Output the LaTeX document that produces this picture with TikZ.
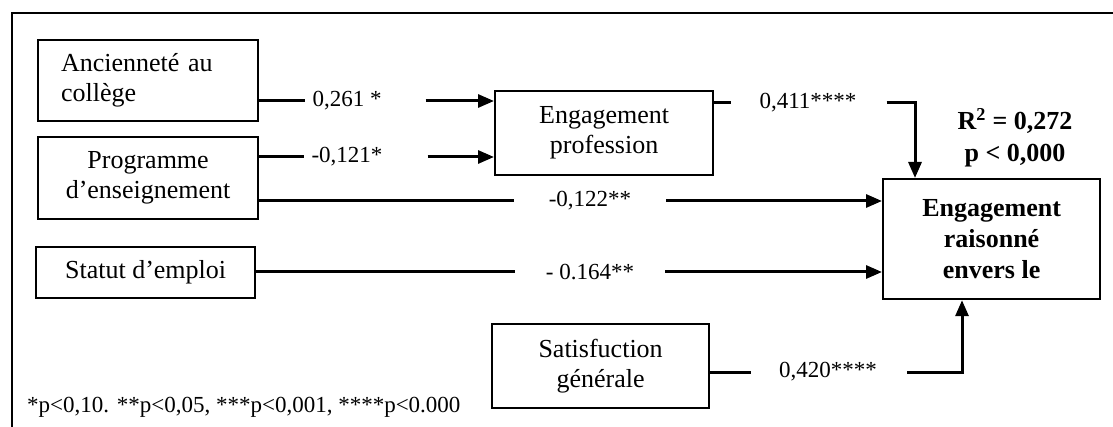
\documentclass[tikz,border=0pt]{standalone}
\usepackage{fontspec}
\setmainfont{Liberation Serif}
\usetikzlibrary{arrows.meta}
\begin{document}
\begin{tikzpicture}[x=1pt,y=-1pt,
  box/.style={draw, line width=2.2pt, inner sep=0pt, align=center,
    anchor=north west, font=\fontsize{26}{30}\selectfont},
  coef/.style={font=\fontsize{23}{26}\selectfont, inner sep=0pt},
  conn/.style={line width=3pt},
  arr/.style={conn, -{Triangle[length=16pt,width=13pt]}},
]
\useasboundingbox (0,0) rectangle (1113,427);
% outer frame
\draw[line width=2pt] (12,427) -- (12,13) -- (1113,13);

% variables
\node[box, minimum width=220pt, minimum height=81pt, text width=174pt,
  inner xsep=23pt, align=left] (anc) at (37,39) {Ancienneté au\\collège};
\node[box, minimum width=220pt, minimum height=82pt] (prog) at (37,136)
  {Programme\\d’enseignement};
\node[box, minimum width=219pt, minimum height=51pt] (stat) at (35,246)
  {Statut d’emploi};
\node[box, minimum width=218pt, minimum height=84pt] (ep) at (494,90)
  {Engagement\\profession};
\node[box, minimum width=217pt, minimum height=120pt,
  font=\bfseries\fontsize{26}{31}\selectfont] (er) at (882,178)
  {Engagement\\raisonné\\envers le};
\node[box, minimum width=217pt, minimum height=84pt] (sg) at (491,323)
  {Satisfuction\\générale};

% model fit
\node[align=center, inner sep=0pt, font=\bfseries\fontsize{26}{32}\selectfont]
  (fit) at (1015,138) {R\textsuperscript{2} = 0,272\\p < 0,000};

% path coefficients
\node[coef] (l1) at (347,101) {0,261 *};
\node[coef] (l2) at (347,157) {-0,121*};
\node[coef] (l3) at (590,201) {-0,122**};
\node[coef] (l4) at (590,272) {- 0.164**};
\node[coef] (l5) at (808,103) {0,411****};
\node[coef] (l6) at (828,372) {0,420****};

% connectors
\draw[conn] (anc.east |- l1) -- ([xshift=-7pt]l1.west);
\draw[arr] ([xshift=44pt]l1.east) -- (ep.west |- l1);
\draw[conn] (prog.east |- l2) -- ([xshift=-7pt]l2.west);
\draw[arr] ([xshift=45pt]l2.east) -- (ep.west |- l2);
\draw[conn] (prog.east |- l3) -- ([xshift=-35pt]l3.west);
\draw[arr] ([xshift=35pt]l3.east) -- (er.west |- l3);
\draw[conn] (stat.east |- l4) -- ([xshift=-31pt]l4.west);
\draw[arr] ([xshift=31pt]l4.east) -- (er.west |- l4);
\draw[conn] (ep.east |- l5) -- ([xshift=-28pt]l5.west);
\draw[arr] ([xshift=30pt]l5.east) -| ([xshift=33pt]er.north west);
\draw[conn] (sg.east |- l6) -- ([xshift=-28pt]l6.west);
\draw[arr] ([xshift=30pt]l6.east) -| ([xshift=80pt]er.south west);

% significance levels
\node[coef, anchor=base west] (note) at (27,412)
  {*p<0,10. **p<0,05, ***p<0,001, ****p<0.000};
\end{tikzpicture}
\end{document}
